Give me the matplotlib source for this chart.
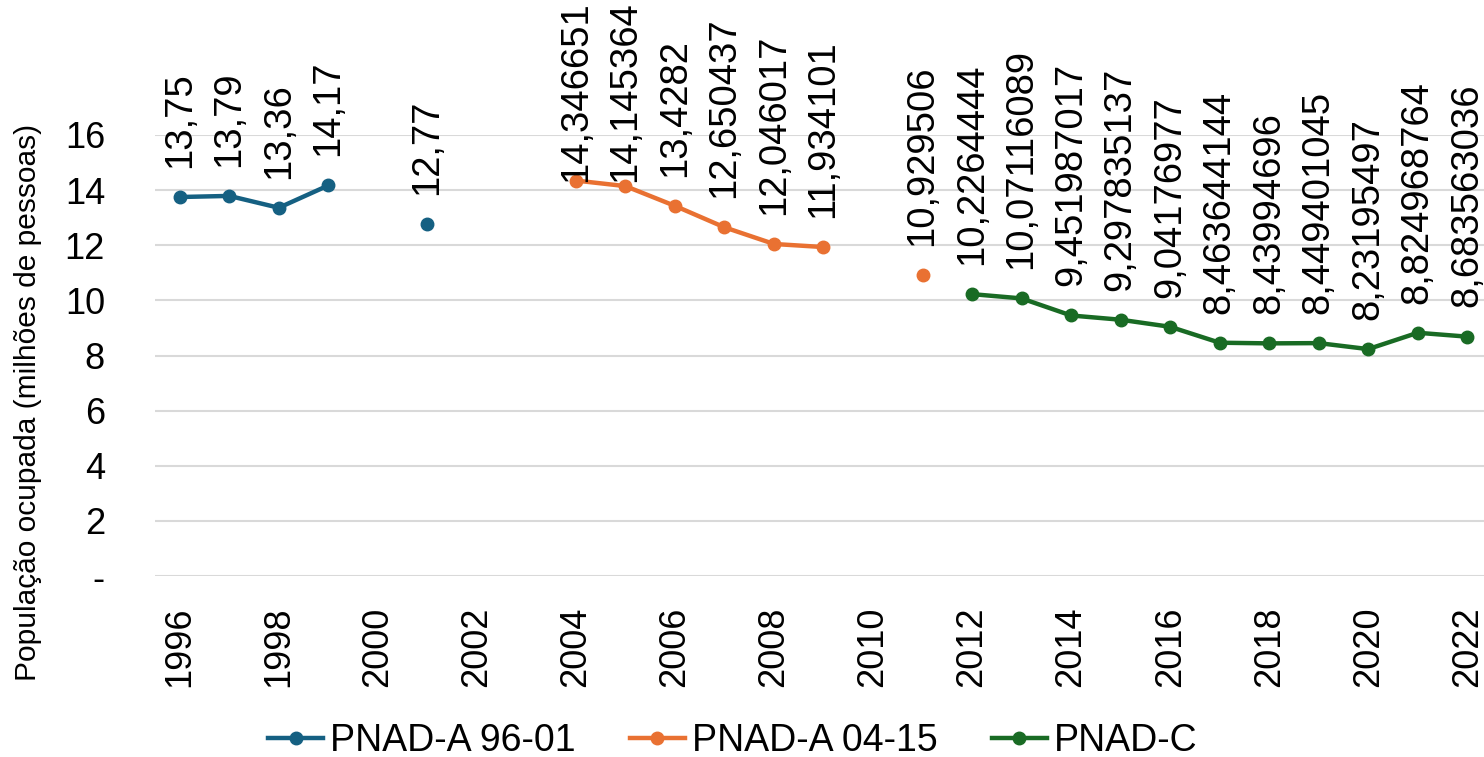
import numpy as np
import matplotlib
matplotlib.use("Agg")
import matplotlib.pyplot as plt
from matplotlib.lines import Line2D

plt.rcParams['font.family'] = ['Liberation Sans', 'DejaVu Sans']

years = list(range(1996, 2023))
series_names = ["PNAD-A 96-01", "PNAD-A 04-15", "PNAD-C"]
pnad_a_9601 = {1996: 13.75, 1997: 13.79, 1998: 13.36, 1999: 14.17, 2001: 12.77}
pnad_a_0415 = {2004: 14.346651, 2005: 14.145364, 2006: 13.4282, 2007: 12.650437,
               2008: 12.046017, 2009: 11.934101, 2011: 10.929506}
pnad_c = {2012: 10.2264444, 2013: 10.07116089, 2014: 9.451987017, 2015: 9.297835137,
          2016: 9.04176977, 2017: 8.463644144, 2018: 8.43994696, 2019: 8.449401045,
          2020: 8.23195497, 2021: 8.824968764, 2022: 8.683563036}
colors = ["#156082", "#E97132", "#196B24"]
yticks = [0, 2, 4, 6, 8, 10, 12, 14, 16]
ytick_labels = ["-", "2", "4", "6", "8", "10", "12", "14", "16"]
ylabel = "População ocupada (milhões de pessoas)"

W, H, DPI = 1484, 757, 100
fig = plt.figure(figsize=(W / DPI, H / DPI), dpi=DPI)
ax = fig.add_axes([155 / W, 1 - 576 / H, (1492 - 155) / W, (576 - 135) / H])

x = np.arange(len(years))
anns = []
for name, data, c in zip(series_names, [pnad_a_9601, pnad_a_0415, pnad_c], colors):
    y = np.array([data.get(yr, np.nan) for yr in years], dtype=float)
    ax.plot(x, y, color=c, lw=3.2, marker='o', ms=9, clip_on=False,
            solid_capstyle='round', zorder=3)
    for xi, yi in zip(x, y):
        if np.isnan(yi):
            continue
        lab = repr(float(yi)).replace('.', ',')
        a = ax.annotate(lab, (xi, yi), xytext=(0, 21), textcoords='offset points',
                        rotation=90, ha='center', va='bottom', fontsize=27.5,
                        annotation_clip=False, zorder=4)
        anns.append(a)

ax.set_xlim(-0.5, len(years) - 0.5)
ax.set_ylim(0, 16)
ax.set_yticks(yticks)
ax.set_yticklabels(ytick_labels, fontsize=26)
ev = [i for i, yr in enumerate(years) if yr % 2 == 0]
ax.set_xticks(ev)
ax.set_xticklabels([str(years[i]) for i in ev], rotation=90, fontsize=26)
ax.tick_params(axis='y', length=0, pad=36)
ax.tick_params(axis='x', length=0, pad=22)
for t in ax.get_xticklabels():
    t.set_va('top')
ax.grid(axis='y', color='#d9d9d9', lw=1.5)
ax.set_axisbelow(True)
for s in ax.spines.values():
    s.set_visible(False)

fig.text(28 / W, 1 - 402 / H, ylabel, rotation=90, ha='center', va='center', fontsize=21.5)

handles = [Line2D([], [], color=c, lw=3.2, marker='o', ms=9) for c in colors]
fig.legend(handles, series_names, loc='center', bbox_to_anchor=(733 / W, 1 - 741 / H),
           ncol=3, frameon=False, fontsize=27, handlelength=1.45, handletextpad=0.2,
           columnspacing=1.45)

# keep data labels inside the figure (shift down if they overflow the top)
fig.canvas.draw()
r = fig.canvas.get_renderer()
for a in anns:
    bb = a.get_window_extent(r)
    top_limit = H - 1
    if bb.y1 > top_limit:
        shift_pt = (bb.y1 - top_limit) * 72 / DPI
        ox, oy = a.xyann
        a.xyann = (ox, oy - shift_pt)

fig.savefig("out.png", dpi=DPI)
